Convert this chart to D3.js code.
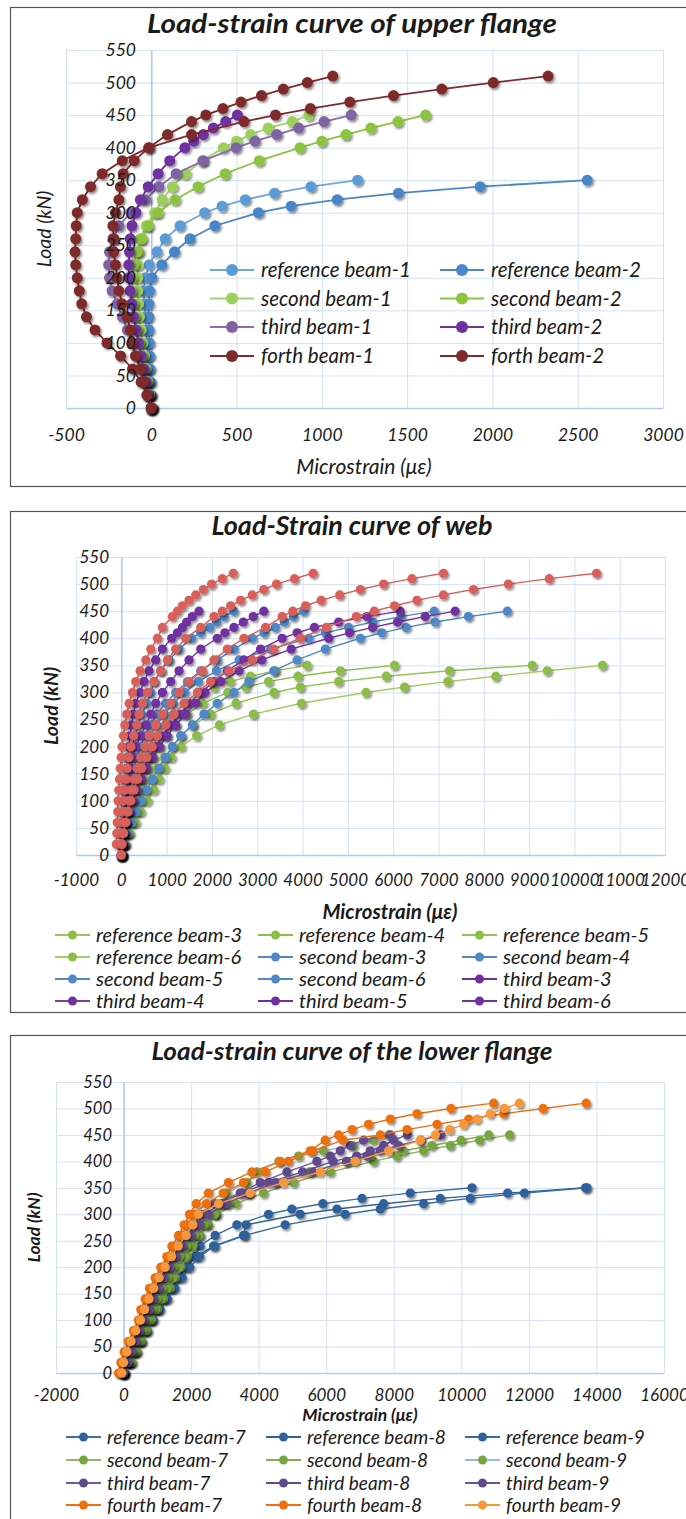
<!DOCTYPE html>
<html>
<head>
<meta charset="utf-8">
<script src="https://cdn.jsdelivr.net/npm/d3@7"></script>
<style>
  body { margin: 0; background: #fff; }
  text { font-family: Lato, "Open Sans", sans-serif; fill: #1a1a1a; }
</style>
</head>
<body>
<div id="chart"></div>
<script>
// ---------- data (kN, microstrain) ----------
var yTicks = [0, 50, 100, 150, 200, 250, 300, 350, 400, 450, 500, 550];
var xTicksUpper = [-500, 0, 500, 1000, 1500, 2000, 2500, 3000];
var xTicksWeb = [-1000, 0, 1000, 2000, 3000, 4000, 5000, 6000, 7000, 8000, 9000, 10000, 11000, 12000];
var xTicksLower = [-2000, 0, 2000, 4000, 6000, 8000, 10000, 12000, 14000, 16000];

// load steps
var loadsTo350 = [0, 20, 40, 60, 80, 100, 120, 140, 160, 180, 200, 220, 240, 260, 280, 300, 310, 320, 330, 340, 350];
var loadsTo450 = [0, 20, 40, 60, 80, 100, 120, 140, 160, 180, 200, 220, 240, 260, 280, 300, 320, 340, 360, 380, 400, 410, 420, 430, 440, 450];
var loadsTo510 = [0, 20, 40, 60, 80, 100, 120, 140, 160, 180, 200, 220, 240, 260, 280, 300, 320, 340, 360, 380, 400, 420, 440, 450, 460, 470, 480, 490, 500, 510];
var loadsTo520 = [0, 20, 40, 60, 80, 100, 120, 140, 160, 180, 200, 220, 240, 260, 280, 300, 320, 340, 360, 380, 400, 420, 440, 450, 460, 470, 480, 490, 500, 510, 520];

// upper flange
var upperNames = ["reference beam-1", "reference beam-2", "second beam-1", "second beam-2", "third beam-1", "third beam-2", "forth beam-1", "forth beam-2"];
var refBeam1 = [0, -5, -10, -15, -20, -25, -30, -35, -40, -45, -35, -12, 33, 82, 169, 313, 415, 551, 723, 936, 1210];
var refBeam2 = [0, -3, -5, -8, -10, -12, -14, -15, -15, -10, 4, 62, 136, 227, 373, 628, 820, 1090, 1449, 1928, 2556];
var secBeam1 = [0, -10, -20, -30, -40, -50, -60, -70, -75, -80, -80, -78, -72, -64, -30, 20, 64, 124, 200, 300, 423, 500, 582, 685, 826, 923];
var secBeam2 = [0, -10, -25, -40, -55, -70, -85, -97, -106, -113, -113, -103, -84, -54, -16, 40, 140, 274, 433, 633, 872, 1000, 1141, 1287, 1446, 1608];
var thirdBeam1 = [0, -20, -40, -60, -85, -110, -140, -170, -200, -230, -245, -250, -245, -225, -190, -120, -33, 44, 146, 305, 497, 608, 736, 864, 1013, 1172];
var thirdBeam2 = [0, -15, -30, -45, -60, -75, -90, -105, -115, -125, -132, -132, -128, -123, -113, -90, -64, -18, 40, 108, 197, 249, 305, 364, 436, 505];
var forthBeam1 = [0, -25, -60, -110, -180, -260, -330, -380, -408, -422, -434, -443, -447, -443, -440, -434, -404, -356, -288, -170, -15, 95, 236, 320, 420, 526, 646, 774, 915, 1064];
var forthBeam2 = [0, -25, -45, -64, -93, -113, -123, -142, -171, -190, -200, -210, -220, -220, -225, -210, -190, -181, -165, -100, -13, 236, 544, 728, 933, 1164, 1420, 1703, 2005, 2326];

// web
var webNames = ["reference beam-3", "reference beam-4", "reference beam-5", "reference beam-6",
  "second beam-3", "second beam-4", "second beam-5", "second beam-6",
  "third beam-3", "third beam-4", "third beam-5", "third beam-6",
  "forth beam-3", "forth beam-4", "forth beam-5", "forth beam-6"];
var refBeam3 = [0, 40, 90, 150, 210, 280, 350, 430, 510, 600, 700, 820, 970, 1150, 1400, 1750, 2050, 2400, 2850, 3400, 4101];
var refBeam4 = [0, 50, 110, 180, 260, 340, 420, 510, 610, 720, 850, 1000, 1200, 1450, 1800, 2350, 2750, 3250, 3900, 4835, 6031];
var refBeam5 = [0, 70, 150, 240, 340, 450, 560, 680, 800, 950, 1130, 1330, 1586, 1971, 2531, 3368, 3953, 4797, 5848, 7243, 9070];
var refBeam6 = [0, 92, 187, 314, 430, 575, 718, 835, 959, 1104, 1317, 1663, 2165, 2916, 3975, 5401, 6251, 7207, 8264, 9400, 10620];
var secBeam3 = [0, 5, 15, 30, 50, 70, 95, 120, 150, 190, 240, 300, 370, 450, 560, 650, 723, 870, 1054, 1274, 1550, 1750, 1950, 2100, 2270, 2485];
var secBeam4 = [0, 10, 30, 55, 85, 120, 160, 210, 270, 340, 420, 520, 640, 780, 980, 1200, 1458, 1751, 2119, 2485, 2890, 3150, 3400, 3600, 3800, 4027];
var secBeam5 = [0, 15, 40, 75, 115, 160, 210, 270, 340, 420, 520, 640, 780, 950, 1150, 1400, 1700, 2100, 2600, 3300, 4137, 4504, 5018, 5555, 6172, 6905];
var secBeam6 = [0, 60, 140, 230, 330, 440, 560, 690, 833, 980, 1128, 1311, 1568, 1824, 2119, 2485, 2815, 3365, 3880, 4504, 5275, 5753, 6288, 6927, 7661, 8520];
var thirdBeam3 = [0, 5, 15, 30, 45, 60, 75, 95, 115, 140, 165, 194, 224, 268, 319, 414, 502, 613, 760, 907, 1112, 1238, 1348, 1443, 1568, 1714];
var thirdBeam4 = [0, 10, 25, 45, 70, 100, 130, 165, 200, 250, 320, 430, 540, 650, 760, 907, 1090, 1274, 1494, 1751, 2119, 2286, 2485, 2692, 2912, 3145];
var thirdBeam5 = [0, 20, 55, 100, 160, 230, 310, 400, 500, 620, 750, 907, 1090, 1311, 1494, 1751, 2044, 2339, 2705, 3073, 3550, 3880, 4262, 4797, 5422, 6156];
var thirdBeam6 = [0, 25, 65, 115, 180, 260, 350, 450, 560, 690, 840, 1010, 1200, 1420, 1650, 1850, 2200, 2600, 3100, 3750, 4577, 5040, 5546, 6097, 6707, 7368];
var forthBeam3 = [0, -110, -100, -90, -80, -70, -55, -40, -25, -5, 15, 48, 77, 121, 172, 246, 319, 414, 540, 650, 797, 907, 1128, 1238, 1348, 1494, 1641, 1811, 1993, 2229, 2471];
var forthBeam4 = [0, -10, -5, 10, 30, 50, 75, 100, 130, 165, 210, 270, 341, 392, 467, 577, 723, 870, 1018, 1200, 1421, 1751, 2044, 2229, 2412, 2632, 2890, 3145, 3425, 3821, 4233];
var forthBeam5 = [0, 10, 40, 80, 120, 170, 220, 280, 350, 430, 520, 613, 760, 907, 1090, 1274, 1494, 1789, 2044, 2339, 2705, 3183, 3550, 3785, 4064, 4410, 4820, 5275, 5789, 6414, 7110];
var forthBeam6 = [0, 15, 50, 100, 150, 210, 280, 360, 450, 560, 680, 797, 980, 1164, 1384, 1678, 1971, 2375, 2890, 3363, 3953, 4526, 5187, 5583, 6031, 6524, 7110, 7771, 8542, 9445, 10489];

// lower flange
var lowerNames = ["reference beam-7", "reference beam-8", "reference beam-9", "second beam-7", "second beam-8", "second beam-9",
  "third beam-7", "third beam-8", "third beam-9", "fourth beam-7", "fourth beam-8", "fourth beam-9"];
var refBeam7 = [0, 142, 291, 439, 588, 765, 963, 1180, 1398, 1594, 1822, 2119, 2267, 2712, 3354, 4291, 4983, 5900, 7058, 8489, 10317];
var refBeam8 = [0, 160, 320, 480, 640, 820, 1020, 1230, 1440, 1640, 1870, 2150, 2662, 3550, 3630, 5230, 6316, 7698, 9378, 11372, 13675];
var refBeam9 = [0, 180, 350, 520, 700, 880, 1080, 1300, 1520, 1740, 1960, 2250, 2700, 3600, 4785, 6563, 7600, 8884, 10267, 11867, 13720];
var secBeam7 = [0, 250, 400, 539, 687, 835, 1001, 1180, 1378, 1526, 1700, 1890, 2068, 2267, 2513, 2761, 3333, 4142, 5031, 6119, 7402, 8094, 8884, 9674, 10543, 11431];
var secBeam8 = [0, 220, 360, 490, 630, 780, 940, 1110, 1290, 1460, 1640, 1830, 2030, 2230, 2450, 2700, 3100, 3700, 4500, 5500, 6612, 7300, 8291, 9131, 9991, 10810];
var secBeam9 = [0, 150, 300, 430, 560, 700, 840, 980, 1130, 1290, 1460, 1650, 1860, 2100, 2380, 2700, 2950, 3058, 3650, 3946, 4600, 5180, 5920, 6800, 7400, 7850];
var thirdBeam7 = [0, 94, 193, 291, 409, 539, 687, 785, 933, 1082, 1280, 1428, 1624, 1872, 2068, 2267, 2700, 3452, 4045, 4835, 5724, 6119, 6415, 6711, 7106, 7897];
var thirdBeam8 = [0, 110, 220, 330, 450, 580, 720, 840, 990, 1140, 1320, 1480, 1680, 1920, 2150, 2400, 2900, 3500, 4300, 5300, 6200, 6900, 7300, 7700, 8000, 8400];
var thirdBeam9 = [0, 120, 240, 360, 480, 610, 760, 880, 1040, 1200, 1380, 1550, 1750, 2000, 2250, 2500, 3050, 3700, 4500, 5600, 6600, 7206, 7600, 8143, 8800, 9400];
var fourthBeam7 = [-150, -80, 15, 142, 291, 439, 509, 637, 765, 933, 1102, 1280, 1428, 1624, 1793, 1950, 2150, 2513, 3105, 3799, 4637, 5526, 5971, 6365, 6761, 7254, 7897, 8688, 9694, 10957];
var fourthBeam8 = [-100, -40, 60, 180, 320, 460, 560, 690, 830, 990, 1160, 1340, 1500, 1700, 1900, 2100, 2450, 2950, 3550, 4200, 4883, 5600, 6500, 7600, 8391, 9280, 10217, 11253, 12420, 13695];
var fourthBeam9 = [-50, 0, 100, 220, 360, 500, 620, 750, 890, 1050, 1230, 1420, 1620, 1850, 2050, 2217, 2810, 3748, 4735, 5822, 6859, 7846, 8785, 9230, 9654, 10070, 10465, 10859, 11274, 11719];

// ---------- styles ----------
var upperColors = [["#6fa6db", "#5b9bd5"], ["#4a86c8", "#4a86c8"], ["#a6d468", "#9cd05a"], ["#8cc43f", "#8cc43f"],
  ["#8a6db2", "#8064a2"], ["#7030a0", "#7030a0"], ["#7f2b2b", "#7f2b2b"], ["#7f2b2b", "#7f2b2b"]];
var webColors = [["#9cc65c", "#8cbd4a"], ["#8cbd4a", "#8cbd4a"], ["#93c255", "#8cbd4a"], ["#a3cc66", "#8cbd4a"],
  ["#4f87c7", "#4f87c7"], ["#4f87c7", "#4f87c7"], ["#4f87c7", "#4f87c7"], ["#4f87c7", "#4f87c7"],
  ["#7030a0", "#7030a0"], ["#7a3fab", "#7030a0"], ["#7030a0", "#7030a0"], ["#7030a0", "#7030a0"],
  ["#d9605a", "#d9605a"], ["#d9605a", "#d9605a"], ["#d9605a", "#d9605a"], ["#d9605a", "#d9605a"]];
var lowerColors = [["#3c6ea6", "#2f619b"], ["#2f619b", "#2f619b"], ["#3a6aa3", "#2f619b"],
  ["#93b866", "#77a540"], ["#86ae50", "#77a540"], ["#9ab7dc", "#77a540"],
  ["#6e5a98", "#604a8c"], ["#604a8c", "#604a8c"], ["#6a5595", "#604a8c"],
  ["#ee6f10", "#ee6f10"], ["#ee6f10", "#ee6f10"], ["#f7983c", "#f7983c"]];

var GRID = "#d5e2f4";

var svg = d3.select("#chart").append("svg")
  .attr("width", 686)
  .attr("height", 1519);

var defs = svg.append("defs");
defs.append("filter").attr("id", "shadow")
  .attr("x", "-50%").attr("y", "-50%").attr("width", "200%").attr("height", "200%")
  .append("feDropShadow")
  .attr("dx", 1.5).attr("dy", 2).attr("stdDeviation", 1.2)
  .attr("flood-color", "#000").attr("flood-opacity", 0.45);

function buildSeries(names, loadsList, strainList, colors) {
  return names.map(function(n, i) {
    return { name: n, points: d3.zip(strainList[i], loadsList[i]), line: colors[i][0], fill: colors[i][1] };
  });
}

var upperSeries = buildSeries(upperNames,
  [loadsTo350, loadsTo350, loadsTo450, loadsTo450, loadsTo450, loadsTo450, loadsTo510, loadsTo510],
  [refBeam1, refBeam2, secBeam1, secBeam2, thirdBeam1, thirdBeam2, forthBeam1, forthBeam2], upperColors);

var webSeries = buildSeries(webNames,
  [loadsTo350, loadsTo350, loadsTo350, loadsTo350, loadsTo450, loadsTo450, loadsTo450, loadsTo450,
   loadsTo450, loadsTo450, loadsTo450, loadsTo450, loadsTo520, loadsTo520, loadsTo520, loadsTo520],
  [refBeam3, refBeam4, refBeam5, refBeam6, secBeam3, secBeam4, secBeam5, secBeam6,
   thirdBeam3, thirdBeam4, thirdBeam5, thirdBeam6, forthBeam3, forthBeam4, forthBeam5, forthBeam6], webColors);

var lowerSeries = buildSeries(lowerNames,
  [loadsTo350, loadsTo350, loadsTo350, loadsTo450, loadsTo450, loadsTo450, loadsTo450, loadsTo450, loadsTo450,
   loadsTo510, loadsTo510, loadsTo510],
  [refBeam7, refBeam8, refBeam9, secBeam7, secBeam8, secBeam9, thirdBeam7, thirdBeam8, thirdBeam9,
   fourthBeam7, fourthBeam8, fourthBeam9], lowerColors);

// ---------- panel layouts ----------
var panels = [
  {
    frame: [10.5, 7.5, 700, 479], title: "Load-strain curve of upper flange", titleY: 33, titleSize: 26, titleLen: 410,
    left: 66, right: 663, top: 50, bottom: 408, xTicks: xTicksUpper,
    yLabelEnd: 136, yLabelSize: 17.5, xLabelY: 441, xLabelSize: 17.5,
    xTitle: "Microstrain (\u03bc\u03b5)", xTitleX: 364, xTitleY: 474, xTitleSize: 21, titleBold: false,
    yTitleX: 51, yTitleSize: 19.5,
    series: upperSeries, r: 5.5, lw: 1.8,
    legend: { cols: [210, 440], rows: [270, 298.5, 327, 356], len: 44, gap: 7, size: 20.5, r: 6, n: 8 }
  },
  {
    frame: [10.5, 511.5, 700, 501], title: "Load-Strain curve of web", titleY: 535, titleSize: 26, titleLen: 281,
    left: 76, right: 665, top: 557, bottom: 855, xTicks: xTicksWeb,
    yLabelEnd: 109, yLabelSize: 17, xLabelY: 886, xLabelSize: 17,
    xTitle: "Microstrain (\u03bc\u03b5)", xTitleX: 390, xTitleY: 919, xTitleSize: 20.5, titleBold: true,
    yTitleX: 58, yTitleSize: 19.5,
    series: webSeries, r: 4.6, lw: 1.4,
    legend: { cols: [55, 258, 462], rows: [935, 957, 979, 1001], len: 35, gap: 6, size: 20, r: 4.5, n: 12 }
  },
  {
    frame: [10.5, 1035.5, 700, 520], title: "Load-strain curve of the lower flange", titleY: 1060, titleSize: 25, titleLen: 401,
    left: 56, right: 664, top: 1082, bottom: 1373, xTicks: xTicksLower,
    yLabelEnd: 112, yLabelSize: 16.5, xLabelY: 1401, xLabelSize: 17,
    xTitle: "Microstrain (\u03bc\u03b5)", xTitleX: 360, xTitleY: 1421, xTitleSize: 17.5, titleBold: true,
    yTitleX: 40, yTitleSize: 17.5,
    series: lowerSeries, r: 4.6, lw: 1.4,
    legend: { cols: [66, 266, 465], rows: [1437, 1460, 1483, 1505], len: 35, gap: 6, size: 19, r: 4.5, n: 12 }
  }
];

var plainNum = d => String(d);

function drawPanel(p) {
  var g = svg.append("g");

  g.append("rect")
    .attr("x", p.frame[0]).attr("y", p.frame[1])
    .attr("width", p.frame[2]).attr("height", p.frame[3])
    .attr("fill", "#fff").attr("stroke", "#555").attr("stroke-width", 1.2);

  var x = d3.scaleLinear()
    .domain([p.xTicks[0], p.xTicks[p.xTicks.length - 1]])
    .range([p.left, p.right]);
  var y = d3.scaleLinear()
    .domain([0, 550])
    .range([p.bottom, p.top]);

  // gridlines
  var hGrid = g.append("g")
    .attr("transform", `translate(${p.left}, 0)`)
    .call(d3.axisLeft(y).tickValues(yTicks).tickSize(-(p.right - p.left)).tickFormat(""));
  hGrid.select(".domain").remove();
  hGrid.selectAll("line").attr("stroke", GRID);

  var vGrid = g.append("g")
    .attr("transform", `translate(0, ${p.bottom})`)
    .call(d3.axisBottom(x).tickValues(p.xTicks).tickSize(-(p.bottom - p.top)).tickFormat(""));
  vGrid.select(".domain").remove();
  vGrid.selectAll("line").attr("stroke", GRID);

  // y axis line at zero strain (under the marks)
  var yLine = g.append("g")
    .attr("transform", `translate(${x(0)}, 0)`)
    .call(d3.axisLeft(y).tickValues([]).tickSize(0).tickSizeOuter(0));
  yLine.select(".domain").attr("stroke", "#a9c3e8").attr("stroke-width", 1.3);

  // titles
  g.append("text")
    .attr("x", 352).attr("y", p.titleY)
    .attr("text-anchor", "middle")
    .attr("textLength", p.titleLen).attr("lengthAdjust", "spacingAndGlyphs")
    .style("font-size", p.titleSize + "px").style("font-weight", "bold").style("font-style", "italic")
    .text(p.title);

  g.append("text")
    .attr("x", p.xTitleX).attr("y", p.xTitleY)
    .attr("text-anchor", "middle")
    .style("font-size", p.xTitleSize + "px").style("font-style", "italic")
    .style("font-weight", p.titleBold ? "bold" : "normal")
    .text(p.xTitle);

  g.append("text")
    .attr("transform", `translate(${p.yTitleX}, ${(p.top + p.bottom) / 2}) rotate(-90)`)
    .attr("text-anchor", "middle")
    .style("font-size", p.yTitleSize + "px").style("font-style", "italic")
    .style("font-weight", p.titleBold ? "bold" : "normal")
    .text("Load (kN)");

  // x axis line and labels
  var xAxis = g.append("g")
    .attr("transform", `translate(0, ${p.bottom})`)
    .call(d3.axisBottom(x).tickValues(p.xTicks).tickSize(0).tickSizeOuter(0).tickFormat(plainNum));
  xAxis.select(".domain").attr("stroke", "#b3cae9").attr("stroke-width", 1.3);
  xAxis.selectAll("text")
    .attr("y", p.xLabelY - p.bottom).attr("dy", 0)
    .style("font-size", p.xLabelSize + "px").style("font-style", "italic")
    .attr("fill", "#1a1a1a");

  // series
  var line = d3.line().x(d => x(d[0])).y(d => y(d[1]));
  p.series.forEach(function(s) {
    var sg = g.append("g");
    sg.append("path")
      .datum(s.points)
      .attr("d", line)
      .attr("fill", "none")
      .attr("stroke", s.line)
      .attr("stroke-width", p.lw);
    sg.append("g").attr("filter", "url(#shadow)")
      .selectAll("circle")
      .data(s.points)
      .enter()
      .append("circle")
      .attr("cx", d => x(d[0]))
      .attr("cy", d => y(d[1]))
      .attr("r", p.r)
      .attr("fill", s.fill);
  });

  // y tick labels drawn over the marks, as in the picture
  var yAxis = g.append("g")
    .attr("transform", `translate(${x(0)}, 0)`)
    .call(d3.axisLeft(y).tickValues(yTicks).tickSize(0).tickSizeOuter(0)
      .tickPadding(x(0) - p.yLabelEnd).tickFormat(plainNum));
  yAxis.select(".domain").remove();
  yAxis.selectAll("text")
    .style("font-size", p.yLabelSize + "px").style("font-style", "italic")
    .attr("fill", "#1a1a1a");

  // legend
  var L = p.legend;
  p.series.slice(0, L.n).forEach(function(s, i) {
    var col = i % L.cols.length;
    var row = Math.floor(i / L.cols.length);
    var lx = L.cols[col], ly = L.rows[row];
    var lg = g.append("g");
    lg.append("line")
      .attr("x1", lx).attr("x2", lx + L.len)
      .attr("y1", ly).attr("y2", ly)
      .attr("stroke", s.line).attr("stroke-width", 2.2);
    lg.append("circle")
      .attr("cx", lx + L.len / 2).attr("cy", ly).attr("r", L.r)
      .attr("fill", s.fill);
    lg.append("text")
      .attr("x", lx + L.len + L.gap).attr("y", ly).attr("dy", "0.35em")
      .style("font-size", L.size + "px").style("font-style", "italic")
      .text(s.name);
  });
}

panels.forEach(drawPanel);
</script>
</body>
</html>
